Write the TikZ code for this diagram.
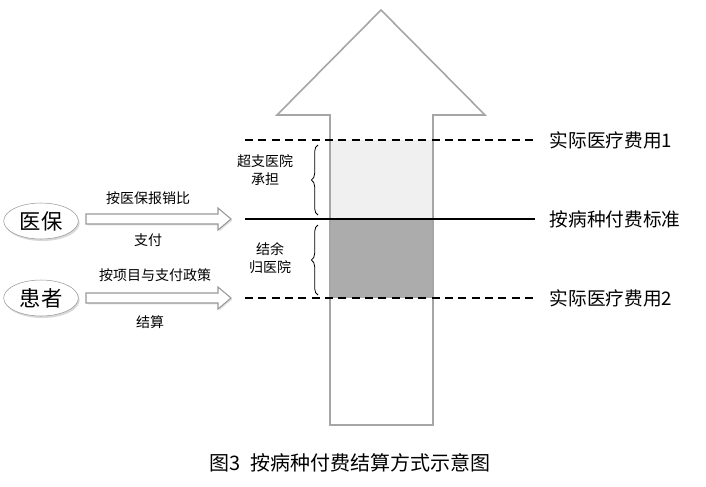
\documentclass[tikz,border=0pt]{standalone}
\usepackage{fontspec}
\setmainfont{Noto Sans CJK SC}
\usetikzlibrary{shapes.geometric,decorations.pathreplacing,shadows}
\begin{document}
\begin{tikzpicture}[x=0.75pt,y=-0.75pt,
 ell/.style={ellipse,draw=gray!80,fill=white,minimum width=56pt,minimum height=27pt,inner sep=0pt,font=\fontsize{16}{16}\selectfont,drop shadow={shadow xshift=1pt,shadow yshift=-1.5pt,fill=gray!60}},
 harrow/.style={draw=gray!80,fill=white,line width=0.8pt,drop shadow={shadow xshift=1pt,shadow yshift=-1pt,fill=gray!50}},
 sm/.style={font=\fontsize{10.5}{13}\selectfont,align=center},
 lab/.style={font=\fontsize{14}{14}\selectfont,anchor=west},
 dl/.style={dashed,dash pattern=on 6pt off 4pt,line width=1pt},
 br/.style={decorate,decoration={brace,amplitude=5pt},line width=0.6pt}]
\useasboundingbox (0,0) rectangle (706,486);
\fill[gray!12] (330,140) rectangle (433,219);
\fill[gray!65] (330,219) rectangle (433,298);
\draw[gray!70,line width=1.2pt] (330,425) -- (330,115) -- (277,115) -- (381,10) -- (485,115) -- (433,115) -- (433,425) -- cycle;
\coordinate (l1) at (245,140); \coordinate (r1) at (535,140);
\coordinate (l2) at (245,219); \coordinate (r2) at (535,219);
\coordinate (l3) at (245,298); \coordinate (r3) at (535,298);
\draw[dl] (l1) -- (r1);
\draw[line width=1pt] (l2) -- (r2);
\draw[dl] (l3) -- (r3);
\node[lab] (t1) at (545,140) {实际医疗费用1};
\node[lab] (t2) at (545,219) {按病种付费标准};
\node[lab] (t3) at (545,298) {实际医疗费用2};
\draw[br] (318,215) -- (318,145);
\draw[br] (318,295) -- (318,225);
\node[sm] (c1) at (265,170) {超支医院\\承担};
\node[sm] (c2) at (270,258) {结余\\归医院};
\node[ell] (yb) at (41,221) {医保};
\node[ell] (hz) at (41,298) {患者};
\path[harrow] (86,214) -- (218,214) -- (218,208) -- (231,219) -- (218,230) -- (218,224) -- (86,224) -- cycle;
\path[harrow] (86,293) -- (218,293) -- (218,287) -- (231,298) -- (218,309) -- (218,303) -- (86,303) -- cycle;
\node[sm] at (148,198) {按医保报销比};
\node[sm] at (148,240) {支付};
\node[sm] at (155,275) {按项目与支付政策};
\node[sm] at (150,322) {结算};
\node[font=\fontsize{15}{15}\selectfont] (cap) at (350,463) {图3\ \ 按病种付费结算方式示意图};
\end{tikzpicture}
\end{document}
